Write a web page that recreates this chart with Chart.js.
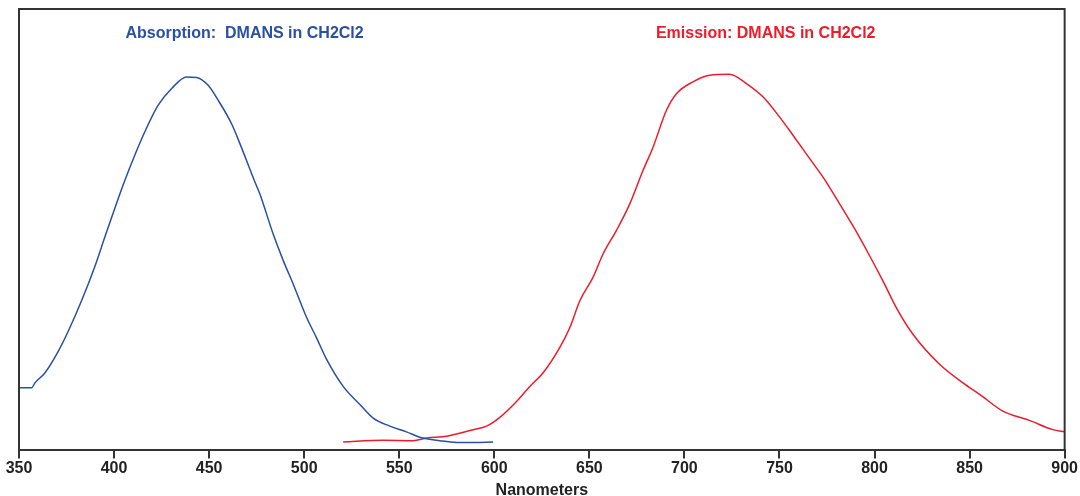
<!DOCTYPE html>
<html lang="en">
<head>
    <meta charset="UTF-8">
    <title>DMANS in CH2Cl2 - Absorption / Emission</title>
    <script src="https://cdn.jsdelivr.net/npm/chart.js"></script>
    <style>
        body {
            margin: 0;
            background-color: white;
        }
    </style>
</head>
<body>
    <canvas id="specChart" width="1080" height="496"></canvas>

    <script>
        // Absorption spectrum (nm, relative intensity)
        const absNm = [350, 356.7, 358.4, 363.7, 370.7, 375.9, 383.0, 390.0, 395.2, 400.5, 405.7, 411.0, 416.2, 423.2, 430.3, 438.2, 443.4, 449.5, 454.8, 461.8, 466.2, 474.1, 476.7, 483.7, 489.0, 494.2, 501.3, 506.5, 511.8, 520.5, 529.3, 536.3, 545.1, 553.8, 560.8, 571.3, 580.1, 588.9, 599.4];
        const absVal = [14.2, 14.2, 15.3, 17.6, 22.5, 27.0, 34.0, 41.8, 48.4, 55.0, 61.2, 67.0, 72.2, 78.2, 82.0, 84.6, 84.5, 82.7, 79.3, 74.0, 69.5, 60.8, 58.1, 49.0, 43.0, 37.7, 30.1, 25.5, 20.6, 14.5, 10.4, 7.3, 5.5, 4.2, 3.0, 2.2, 1.8, 1.8, 1.9];

        // Emission spectrum
        const emiNm = [520.5, 541.5, 557.3, 564.4, 574.9, 588.9, 595.9, 602.9, 611.7, 618.7, 625.7, 634.4, 639.7, 645.0, 651.9, 657.2, 664.2, 671.2, 678.2, 683.5, 690.5, 695.8, 704.5, 713.3, 723.8, 732.6, 741.3, 750.1, 757.1, 765.9, 772.9, 781.7, 788.6, 797.4, 804.4, 811.5, 820.2, 834.2, 846.5, 855.3, 867.5, 881.5, 893.8, 900];
        const emiVal = [1.9, 2.3, 2.2, 2.8, 3.2, 4.7, 5.5, 7.5, 11.1, 14.5, 17.6, 23.3, 27.8, 33.9, 39.2, 44.5, 49.8, 55.8, 63.4, 68.7, 77.0, 80.8, 83.5, 85.0, 85.2, 83.1, 80.1, 75.5, 71.4, 66.1, 61.9, 55.8, 50.9, 44.1, 38.4, 32.3, 26.3, 19.5, 15.3, 12.7, 8.9, 6.8, 4.7, 4.2];

        const absLabel = 'Absorption:  DMANS in CH2Cl2';
        const emiLabel = 'Emission: DMANS in CH2Cl2';

        const blue = '#2a4fa3';
        const red = '#ee1c2b';
        const fontFam = '"Liberation Sans", Arial, sans-serif';

        function toPoints(xs, ys) {
            return xs.map((x, i) => ({ x: x, y: ys[i] }));
        }

        // frame around plot + inline labels
        const framePlugin = {
            id: 'frame',
            afterDraw(chart) {
                const ctx = chart.ctx;
                const a = chart.chartArea;
                const xs = chart.scales.x;
                const ys = chart.scales.y;
                ctx.save();
                ctx.strokeStyle = '#333';
                ctx.lineWidth = 2;
                ctx.beginPath();
                ctx.moveTo(a.left, a.bottom);
                ctx.lineTo(a.left, a.top);
                ctx.lineTo(a.right, a.top);
                ctx.lineTo(a.right, a.bottom);
                ctx.stroke();

                ctx.font = 'bold 16px ' + fontFam;
                ctx.textBaseline = 'middle';
                ctx.fillStyle = blue;
                ctx.fillText(absLabel, xs.getPixelForValue(406), ys.getPixelForValue(94.5));
                ctx.fillStyle = red;
                ctx.fillText(emiLabel, xs.getPixelForValue(685), ys.getPixelForValue(94.5));
                ctx.restore();
            }
        };

        const ctx = document.getElementById('specChart').getContext('2d');
        const chart = new Chart(ctx, {
            type: 'line',
            data: {
                datasets: [{
                    label: absLabel,
                    data: toPoints(absNm, absVal),
                    borderColor: blue,
                    borderWidth: 1.5,
                    pointRadius: 0,
                    cubicInterpolationMode: 'monotone'
                }, {
                    label: emiLabel,
                    data: toPoints(emiNm, emiVal),
                    borderColor: red,
                    borderWidth: 1.5,
                    pointRadius: 0,
                    cubicInterpolationMode: 'monotone'
                }]
            },
            options: {
                responsive: false,
                animation: false,
                layout: {
                    padding: { left: 19, right: 13, top: 9, bottom: 0 }
                },
                plugins: {
                    legend: { display: false },
                    tooltip: { enabled: false }
                },
                scales: {
                    x: {
                        type: 'linear',
                        min: 350,
                        max: 900,
                        border: { color: '#333', width: 2 },
                        grid: {
                            drawOnChartArea: false,
                            drawTicks: true,
                            tickLength: 8,
                            color: '#333',
                            lineWidth: 2
                        },
                        ticks: {
                            stepSize: 50,
                            autoSkip: false,
                            color: '#222',
                            padding: 2,
                            maxRotation: 0,
                            font: { family: fontFam, size: 16, weight: 'bold', lineHeight: 1.0 }
                        },
                        title: {
                            display: true,
                            text: 'Nanometers',
                            color: '#222',
                            padding: { top: 3, bottom: -4.6 },
                            font: { family: fontFam, size: 16, weight: 'bold', lineHeight: 1.2 }
                        }
                    },
                    y: {
                        display: false,
                        min: 0,
                        max: 100
                    }
                }
            },
            plugins: [framePlugin]
        });
    </script>
</body>
</html>
